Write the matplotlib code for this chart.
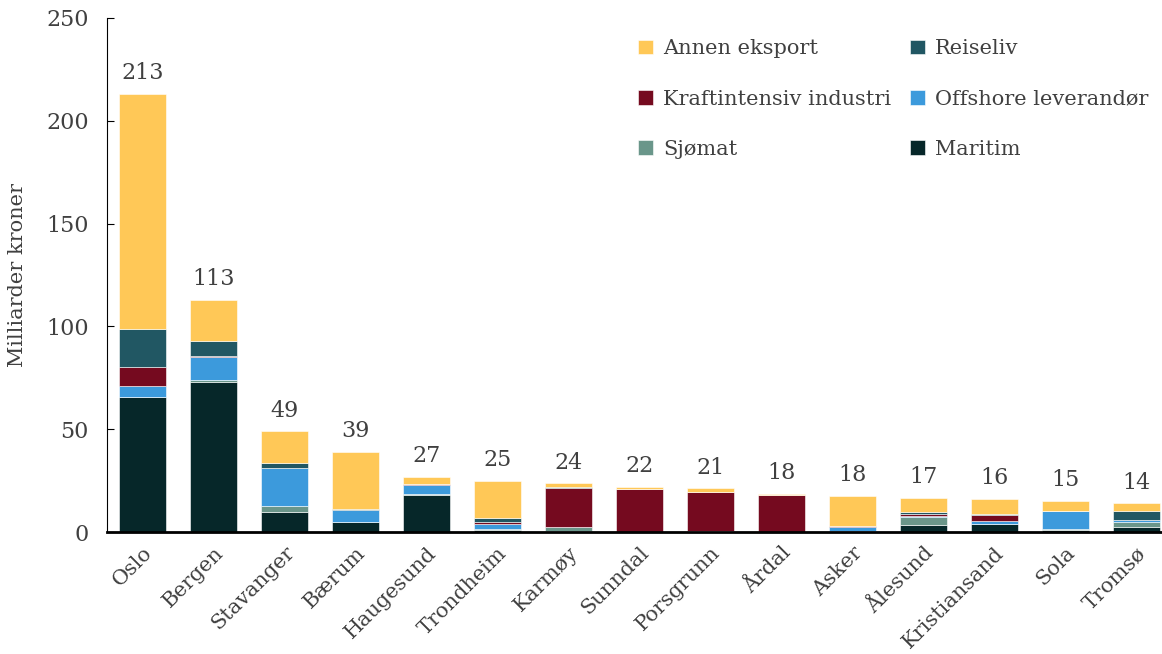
import numpy as np
import matplotlib
matplotlib.use("Agg")
import matplotlib.pyplot as plt

plt.rcParams['font.family'] = ['DejaVu Serif']

# kommuner og eksport per næring (milliarder kroner)
kommuner = ["Oslo", "Bergen", "Stavanger", "Bærum", "Haugesund", "Trondheim", "Karmøy",
            "Sunndal", "Porsgrunn", "Årdal", "Asker", "Ålesund", "Kristiansand", "Sola", "Tromsø"]

maritim = [65.5, 73.0, 9.9, 5.0, 18.2, 1.0, 0.6, 0.1, 0.4, 0.1, 0.3, 3.6, 3.8, 1.1, 2.5]
sjomat = [0.3, 0.8, 2.6, 0.1, 0.3, 0.5, 1.8, 0.0, 0.0, 0.0, 0.0, 3.6, 0.2, 0.3, 2.6]
offshore = [5.0, 11.1, 18.4, 5.5, 4.6, 2.5, 0.1, 0.1, 0.1, 0.1, 2.0, 0.5, 1.4, 8.7, 0.6]
kraft = [9.5, 0.9, 0.3, 0.2, 0.1, 1.0, 19.1, 20.7, 18.8, 17.8, 0.5, 0.9, 2.9, 0.1, 0.3]
reiseliv = [18.3, 7.0, 2.5, 0.4, 0.3, 1.8, 0.1, 0.0, 0.1, 0.0, 0.2, 1.1, 0.4, 0.1, 4.3]
annen = [114.4, 20.2, 15.3, 27.8, 3.5, 18.0, 2.0, 0.9, 1.8, 0.4, 14.7, 7.0, 7.6, 5.0, 3.7]

serier = [
    ("Maritim", maritim, "#062729"),
    ("Sjømat", sjomat, "#6A968A"),
    ("Offshore leverandør", offshore, "#3C9ADC"),
    ("Kraftintensiv industri", kraft, "#750A1F"),
    ("Reiseliv", reiseliv, "#215763"),
    ("Annen eksport", annen, "#FFC857"),
]

fig = plt.figure(figsize=(11.62, 6.54), dpi=100)
ax = fig.add_axes([0.0921, 0.1865, 0.9079, 0.786])

x = np.arange(len(kommuner))
bunn = np.zeros(len(kommuner))
handles = {}
for navn, verdier, farge in serier:
    b = ax.bar(x, verdier, 0.66, bottom=bunn, color=farge, edgecolor="white", linewidth=0.4, label=navn)
    handles[navn] = b
    bunn = bunn + np.array(verdier)

# totalsum over hver stolpe
for xi, tot in zip(x, bunn):
    ax.annotate(f"{tot:.0f}", (xi, tot), xytext=(0, 7), textcoords="offset points",
                ha="center", va="bottom", fontsize=16, color="#404040")

ax.set_xlim(-0.5, 14.36)
ax.set_ylim(0, 250)
ax.set_yticks([0, 50, 100, 150, 200, 250])
ax.set_xticks(x)
ax.set_xticklabels(kommuner, rotation=45, ha="right", rotation_mode="anchor", fontsize=15, color="#404040")
ax.tick_params(axis="x", length=0, pad=8)
ax.tick_params(axis="y", direction="in", length=5, labelsize=16, labelcolor="#404040", pad=13)
ax.set_ylabel("Milliarder kroner", fontsize=15, color="#404040", labelpad=14)

ax.spines["top"].set_visible(False)
ax.spines["right"].set_visible(False)
ax.spines["bottom"].set_linewidth(2)

rekkefolge = ["Annen eksport", "Kraftintensiv industri", "Sjømat", "Reiseliv", "Offshore leverandør", "Maritim"]
leg = ax.legend([handles[n] for n in rekkefolge], rekkefolge, ncol=2, loc="upper right",
                bbox_to_anchor=(1.005, 0.995), frameon=False, fontsize=15, handlelength=0.7,
                handleheight=0.7, labelspacing=1.5, columnspacing=0.9, handletextpad=0.5)
for t in leg.get_texts():
    t.set_color("#404040")

fig.savefig("out.png", dpi=100)
